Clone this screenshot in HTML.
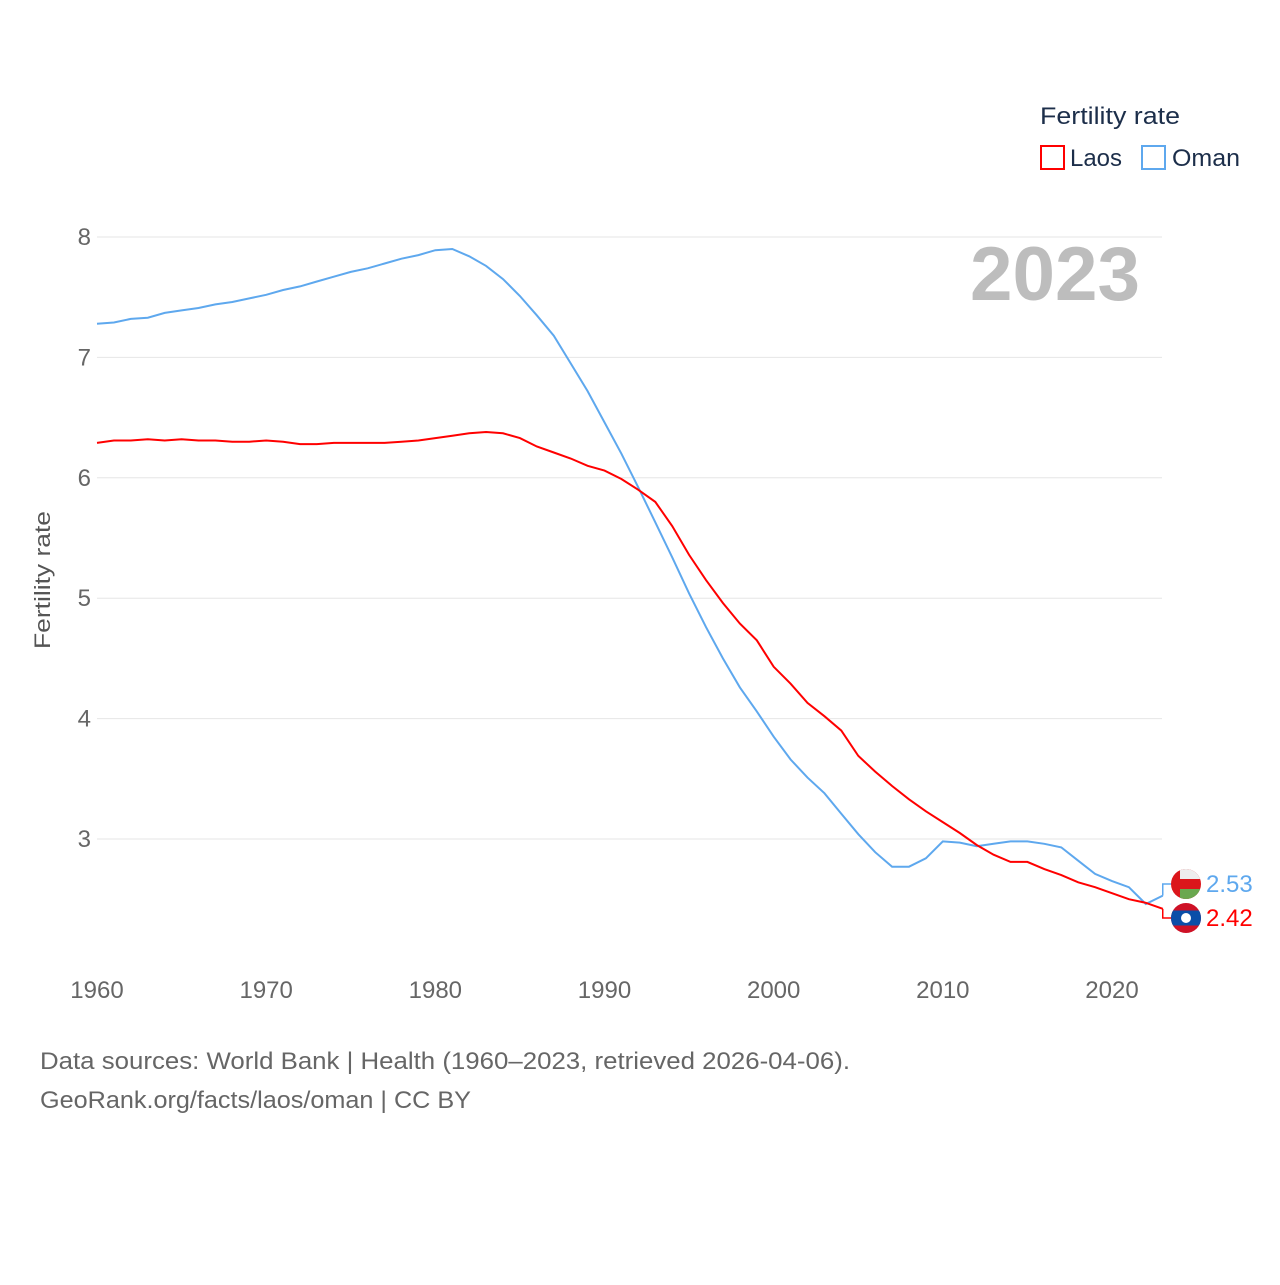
<!DOCTYPE html>
<html><head><meta charset="utf-8"><style>
body{margin:0;background:#fff;font-family:"Liberation Sans",sans-serif}
svg text{font-family:"Liberation Sans",sans-serif}
</style></head><body>
<svg id="chart" width="1280" height="1280" viewBox="0 0 1280 1280">
<g id="grid"></g>
<g id="yticks"></g>
<g id="xticks"></g>
<text x="0" y="0" transform="translate(50,580) rotate(-90)" text-anchor="middle" font-size="22" fill="#555" textLength="138" lengthAdjust="spacingAndGlyphs">Fertility rate</text>
<text x="970" y="300" font-size="76" font-weight="bold" fill="#bdbdbd" textLength="170" lengthAdjust="spacingAndGlyphs">2023</text>
<g>
<text x="1040" y="124" font-size="24" fill="#1c2e4a" textLength="140" lengthAdjust="spacingAndGlyphs">Fertility rate</text>
<g><rect x="1041" y="146" width="23" height="23" fill="none" stroke="#f00" stroke-width="2"/><text x="1070" y="166" font-size="24" fill="#1c2e4a" textLength="52" lengthAdjust="spacingAndGlyphs">Laos</text></g>
<g><rect x="1142" y="146" width="23" height="23" fill="none" stroke="#5ea8ee" stroke-width="2"/><text x="1172" y="166" font-size="24" fill="#1c2e4a" textLength="68" lengthAdjust="spacingAndGlyphs">Oman</text></g>
</g>
<g id="series"></g>
<g id="ends"></g>
<text x="40" y="1069" font-size="24" fill="#666" textLength="810" lengthAdjust="spacingAndGlyphs">Data sources: World Bank | Health (1960–2023, retrieved 2026-04-06).</text>
<text x="40" y="1108" font-size="24" fill="#666" textLength="431" lengthAdjust="spacingAndGlyphs">GeoRank.org/facts/laos/oman | CC BY</text>
</svg>
<script>
const years=[];for(let y=1960;y<=2023;y++)years.push(y);
const laos=[6.29,6.31,6.31,6.32,6.31,6.32,6.31,6.31,6.30,6.30,6.31,6.30,6.28,6.28,6.29,6.29,6.29,6.29,6.30,6.31,6.33,6.35,6.37,6.38,6.37,6.33,6.26,6.21,6.16,6.10,6.06,5.99,5.90,5.80,5.60,5.36,5.15,4.96,4.79,4.65,4.43,4.29,4.13,4.02,3.90,3.69,3.56,3.44,3.33,3.23,3.14,3.05,2.95,2.87,2.81,2.81,2.75,2.70,2.64,2.60,2.55,2.50,2.47,2.42];
const oman=[7.28,7.29,7.32,7.33,7.37,7.39,7.41,7.44,7.46,7.49,7.52,7.56,7.59,7.63,7.67,7.71,7.74,7.78,7.82,7.85,7.89,7.90,7.84,7.76,7.65,7.51,7.35,7.18,6.95,6.72,6.46,6.20,5.92,5.63,5.34,5.04,4.76,4.50,4.26,4.06,3.85,3.66,3.51,3.38,3.21,3.04,2.89,2.77,2.77,2.84,2.98,2.97,2.94,2.96,2.98,2.98,2.96,2.93,2.82,2.71,2.65,2.60,2.46,2.53];
const yTicks=[3,4,5,6,7,8];
const xTicks=[1960,1970,1980,1990,2000,2010,2020];
const NS="http://www.w3.org/2000/svg";
const xs=y=>97+(y-1960)*(1112-97)/60;
const ys=v=>839-(v-3)*120.4;
function mk(t,a,p){const e=document.createElementNS(NS,t);for(const k in a)e.setAttribute(k,a[k]);p.appendChild(e);return e;}
const grid=document.getElementById('grid'),yt=document.getElementById('yticks'),xt=document.getElementById('xticks');
yTicks.forEach(v=>{
 const l=mk('line',{x1:97,x2:1162,y1:ys(v),y2:ys(v),stroke:'#e6e6e6','stroke-width':1},grid);
 
 
 const t=mk('text',{x:91,y:ys(v)+8,'text-anchor':'end','font-size':24,fill:'#666'},yt);t.textContent=v;
 
 
});
xTicks.forEach(v=>{
 const t=mk('text',{x:xs(v),y:998,'text-anchor':'middle','font-size':24,fill:'#666'},xt);t.textContent=v;
 
 
});
const s=document.getElementById('series');
function line(d,c,n){const p=mk('path',{d:d.map((v,i)=>(i?'L':'M')+xs(years[i]).toFixed(1)+','+ys(v).toFixed(1)).join(''),fill:'none',stroke:c,'stroke-width':2},s);
 
 }
line(oman,'#5ea8ee','line-oman');
line(laos,'#f00','line-laos');
const ends=document.getElementById('ends');
const lx=xs(2023);
const oy=884,ly=918;
const oe=ys(oman[oman.length-1]),le=ys(laos[laos.length-1]);
mk('path',{d:`M${lx},${oe}L${lx},${oy}L1172,${oy}`,fill:'none',stroke:'#5ea8ee','stroke-width':1.5},ends);
mk('path',{d:`M${lx},${le}L${lx},${ly}L1172,${ly}`,fill:'none',stroke:'#f00','stroke-width':1.5},ends);
const of=mk('g',{},ends);


mk('clipPath',{id:'co'},of);mk('circle',{cx:1186,cy:oy,r:15},document.getElementById('co'));
const og=mk('g',{'clip-path':'url(#co)'},of);
mk('rect',{x:1171,y:oy-15,width:30,height:30,fill:'#db161b'},og);
mk('rect',{x:1180,y:oy-15,width:21,height:10,fill:'#eee'},og);
mk('rect',{x:1180,y:oy+5,width:21,height:10,fill:'#6aa84f'},og);
const lf=mk('g',{},ends);


mk('clipPath',{id:'cl'},lf);mk('circle',{cx:1186,cy:ly,r:15},document.getElementById('cl'));
const lg=mk('g',{'clip-path':'url(#cl)'},lf);
mk('rect',{x:1171,y:ly-15,width:30,height:30,fill:'#ce1126'},lg);
mk('rect',{x:1171,y:ly-7.5,width:30,height:15,fill:'#0a4ea8'},lg);
mk('circle',{cx:1186,cy:ly,r:5,fill:'#fff'},lg);
const t1=mk('text',{x:1206,y:oy+8,'font-size':24,fill:'#5ea8ee'},ends);t1.textContent=oman[oman.length-1].toFixed(2);


const t2=mk('text',{x:1206,y:ly+8,'font-size':24,fill:'#f00'},ends);t2.textContent=laos[laos.length-1].toFixed(2);


</script>
</body></html>
